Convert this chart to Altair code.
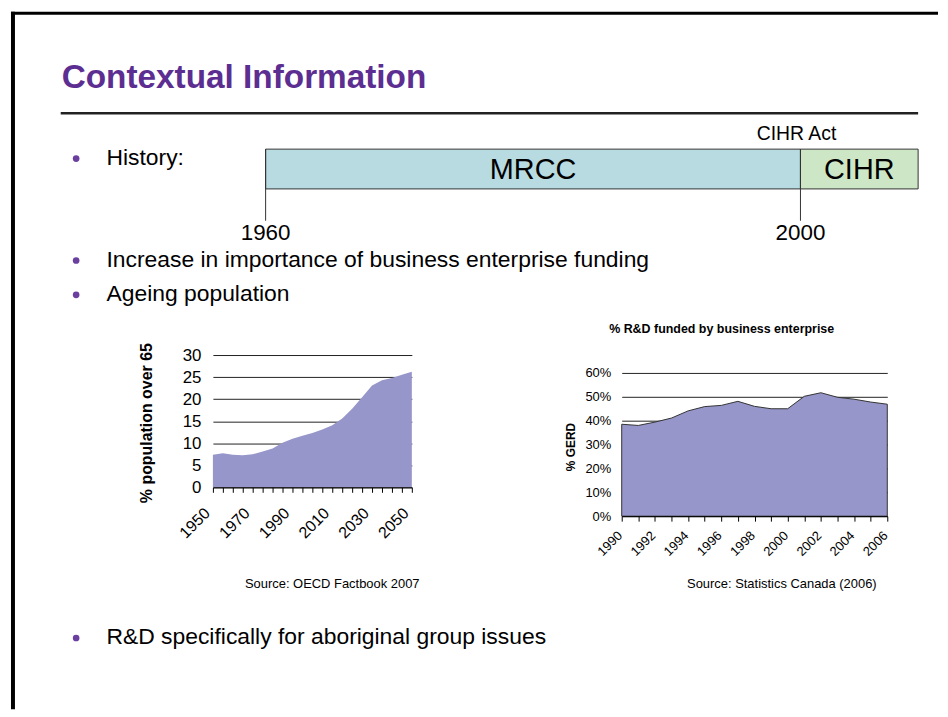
import altair as alt
import pandas as pd

FONT = "Liberation Sans"
PURPLE = "#5c2e91"
BULLET = "#6b3fa0"
AREA = "#9696ca"

# ---------------- data ----------------
# timeline
eras = ["MRCC", "CIHR"]
era_start = [1960, 2000]
era_end = [2000, 2008.8]
era_fill = ["#b7dbe0", "#cde7c6"]
milestone_years = [1960, 2000]
milestone_text = ["1960", "2000"]
act_year = [2000]
act_text = ["CIHR Act"]

# bullet texts
bullets = [
    "History:",
    "Increase in importance of business enterprise funding",
    "Ageing population",
    "R&D specifically for aboriginal group issues",
]

# % population over 65 (OECD Factbook 2007)
pop_years = [1950, 1955, 1960, 1965, 1970, 1975, 1980, 1985, 1990, 1995, 2000,
             2005, 2010, 2015, 2020, 2025, 2030, 2035, 2040, 2045, 2050]
pop_over65 = [7.4, 7.7, 7.4, 7.3, 7.5, 8.1, 8.8, 10.1, 11.0, 11.7, 12.3,
              13.1, 14.1, 15.6, 17.8, 20.4, 23.1, 24.3, 24.8, 25.5, 26.2]

# % R&D funded by business enterprise (Statistics Canada 2006)
rd_years = list(range(1990, 2007))
rd_share = [38.5, 38.0, 39.4, 41.1, 44.1, 45.9, 46.4, 48.1, 46.0, 45.0, 45.0,
            50.2, 51.7, 49.8, 49.0, 47.8, 46.9]

pop_ticks = [0, 5, 10, 15, 20, 25, 30]
rd_ticks = [0, 10, 20, 30, 40, 50, 60]

titles = {
    "slide": "Contextual Information",
    "pop_y": "% population over 65",
    "rd_title": "% R&D funded by business enterprise",
    "rd_y": "% GERD",
    "src_pop": "Source: OECD Factbook 2007",
    "src_rd": "Source: Statistics Canada (2006)",
}

one = pd.DataFrame({"k": [0]})


def txt(s, x, y, size, weight="normal", color="#000", align="left"):
    return alt.Chart(one).mark_text(
        text=s, font=FONT, fontSize=size, fontWeight=weight, color=color,
        align=align, baseline="alphabetic",
    ).encode(x=alt.value(x), y=alt.value(y))


def dot(y):
    return alt.Chart(one).mark_circle(size=45, color=BULLET, opacity=1).encode(
        x=alt.value(65.5), y=alt.value(y))


def spacer(w, h):
    return alt.Chart(one).mark_point(opacity=0).encode(
        x=alt.value(0), y=alt.value(0)).properties(width=w, height=h)


# ---------------- header / slide panel ----------------
border_left = alt.Chart(one).mark_rule(color="#000", strokeWidth=4).encode(
    x=alt.value(2), y=alt.value(0), y2=alt.value(701))
border_top = alt.Chart(one).mark_rule(color="#000", strokeWidth=3).encode(
    x=alt.value(0), x2=alt.value(932), y=alt.value(1.5))
title_rule = alt.Chart(one).mark_rule(color="#222", strokeWidth=2.5).encode(
    x=alt.value(50), x2=alt.value(912), y=alt.value(102))

xs = alt.Scale(domain=[1960, 2008.8], range=[256, 912], nice=False, zero=False)
era_df = pd.DataFrame({"era": eras, "start": era_start, "end": era_end})
bars = alt.Chart(era_df).mark_rect(stroke="#333", strokeWidth=1).encode(
    x=alt.X("start:Q", scale=xs, axis=None),
    x2="end:Q",
    y=alt.value(138), y2=alt.value(178),
    color=alt.Color("era:N", scale=alt.Scale(domain=eras, range=era_fill), legend=None),
)
era_text = alt.Chart(era_df).transform_calculate(
    mid="(datum.start + datum.end) / 2"
).mark_text(font=FONT, fontSize=29, baseline="alphabetic", color="#000").encode(
    x=alt.X("mid:Q", scale=xs, axis=None), y=alt.value(168), text="era:N")

ms_df = pd.DataFrame({"year": milestone_years, "label": milestone_text})
ms_rule = alt.Chart(ms_df).mark_rule(color="#333", strokeWidth=1).encode(
    x=alt.X("year:Q", scale=xs, axis=None), y=alt.value(138), y2=alt.value(210))
ms_text = alt.Chart(ms_df).mark_text(font=FONT, fontSize=22.5, baseline="alphabetic", color="#000").encode(
    x=alt.X("year:Q", scale=xs, axis=None), y=alt.value(229), text="label:N")
act_df = pd.DataFrame({"year": act_year, "label": act_text})
act = alt.Chart(act_df).mark_text(font=FONT, fontSize=19.5, baseline="alphabetic", color="#000", dx=-4).encode(
    x=alt.X("year:Q", scale=xs, axis=None), y=alt.value(128.7), text="label:N")

header = alt.layer(
    border_left, border_top,
    txt(titles["slide"], 51, 77, 33.5, weight="bold", color=PURPLE),
    title_rule,
    dot(147.5), txt(bullets[0], 96, 154, 23),
    dot(250), txt(bullets[1], 96, 256.5, 23),
    dot(284.5), txt(bullets[2], 96, 291, 23),
    dot(629.5), txt(bullets[3], 96, 636, 23),
    bars, era_text, ms_rule, ms_text, act,
    txt(titles["rd_title"], 714.5, 323, 12.5, weight="bold", align="center"),
    txt(titles["src_pop"], 323, 579, 13, align="center"),
    txt(titles["src_rd"], 775, 579, 13, align="center"),
).properties(width=932, height=345)

# ---------------- left chart ----------------
pop_df = pd.DataFrame({"year": pop_years, "pct": pop_over65})
left = alt.Chart(pop_df).mark_area(fill=AREA, opacity=1).encode(
    x=alt.X("year:Q",
            scale=alt.Scale(domain=[1950, 2050], nice=False, zero=False),
            axis=alt.Axis(values=pop_years, format="d",
                          labelExpr="datum.value % 20 == 10 ? datum.label : ''",
                          labelAngle=315, labelAlign="right", labelBaseline="middle",
                          labelFont=FONT, labelFontSize=16, labelColor="#000",
                          labelPadding=18, labelOffset=-6, labelOverlap=False, labelFlush=False,
                          tickSize=5, tickColor="#000", domainColor="#000",
                          grid=False, title=None, zindex=1)),
    y=alt.Y("pct:Q",
            scale=alt.Scale(domain=[0, 30], nice=False),
            axis=alt.Axis(values=pop_ticks, grid=True, gridColor="#222", gridWidth=1,
                          domain=False, ticks=False, labelPadding=12,
                          labelFont=FONT, labelFontSize=17, labelColor="#000",
                          title=titles["pop_y"], titleFont=FONT, titleFontSize=16,
                          titleFontWeight="bold", titleColor="#000", titleAngle=270,
                          titleX=-67, titleY=68, titleAlign="center", titleBaseline="middle")),
).properties(width=200, height=133)

# ---------------- right chart ----------------
rd_df = pd.DataFrame({"year": rd_years, "share": rd_share})
right = alt.Chart(rd_df).mark_area(fill=AREA, opacity=1, stroke="#333", strokeWidth=1).encode(
    x=alt.X("year:Q",
            scale=alt.Scale(domain=[1990, 2006], nice=False, zero=False),
            axis=alt.Axis(values=rd_years, format="d",
                          labelExpr="datum.value % 2 == 0 ? datum.label : ''",
                          labelAngle=315, labelAlign="right", labelBaseline="middle",
                          labelFont=FONT, labelFontSize=13, labelColor="#000",
                          labelPadding=12, labelOffset=-2, labelOverlap=False, labelFlush=False,
                          tickSize=5, tickColor="#000", domainColor="#000",
                          grid=False, title=None, zindex=1)),
    y=alt.Y("share:Q",
            scale=alt.Scale(domain=[0, 67.5], nice=False),
            axis=alt.Axis(values=rd_ticks, labelExpr="datum.value + '%'",
                          grid=True, gridColor="#222", gridWidth=1,
                          domain=False, ticks=False, labelPadding=11,
                          labelFont=FONT, labelFontSize=13, labelColor="#000",
                          title=titles["rd_y"], titleFont=FONT, titleFontSize=12,
                          titleFontWeight="bold", titleColor="#000", titleAngle=270,
                          titleX=-51, titleY=92, titleAlign="center", titleBaseline="middle")),
).properties(width=267, height=162)

row = alt.hconcat(spacer(203, 133), left, spacer(211, 133), right, spacing=0, bounds="flush")

chart = alt.vconcat(header, row, spacing=0, bounds="flush").properties(
    padding=0, background="white"
).configure_view(stroke=None)

chart.save("out.html", embed_options={"renderer": "svg", "actions": False})
